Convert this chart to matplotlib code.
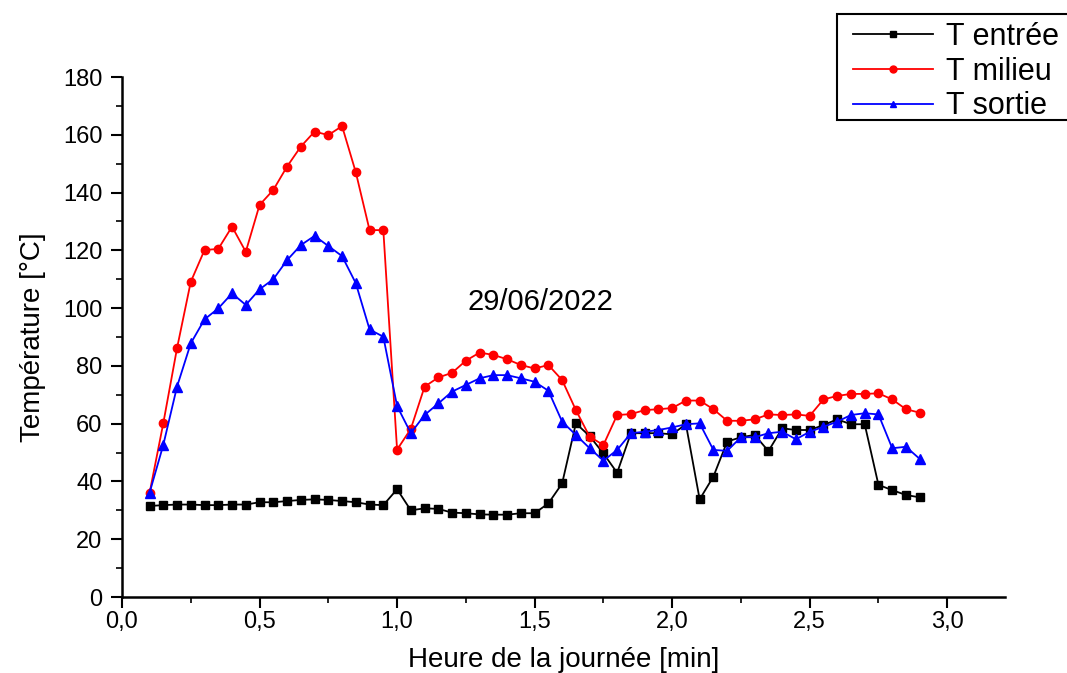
import matplotlib
matplotlib.use("Agg")
import matplotlib.pyplot as plt
from matplotlib.patches import Rectangle
from matplotlib.ticker import FuncFormatter, MultipleLocator

plt.rcParams["font.family"] = ["Liberation Sans", "DejaVu Sans"]

# time (x) from 0.10 to 2.90 by 0.05
heure = [0.10, 0.15, 0.20, 0.25, 0.30, 0.35, 0.40, 0.45, 0.50, 0.55,
         0.60, 0.65, 0.70, 0.75, 0.80, 0.85, 0.90, 0.95, 1.00, 1.05,
         1.10, 1.15, 1.20, 1.25, 1.30, 1.35, 1.40, 1.45, 1.50, 1.55,
         1.60, 1.65, 1.70, 1.75, 1.80, 1.85, 1.90, 1.95, 2.00, 2.05,
         2.10, 2.15, 2.20, 2.25, 2.30, 2.35, 2.40, 2.45, 2.50, 2.55,
         2.60, 2.65, 2.70, 2.75, 2.80, 2.85, 2.90]

t_entree = [31.5, 31.8, 32.0, 32.0, 31.8, 31.8, 32.0, 32.0, 32.8, 32.8,
            33.2, 33.6, 33.8, 33.6, 33.2, 32.8, 32.0, 31.8, 37.3, 30.0,
            30.7, 30.5, 29.2, 29.0, 28.6, 28.5, 28.5, 29.0, 29.0, 32.4,
            39.3, 60.1, 55.7, 49.7, 43.0, 56.7, 56.7, 56.7, 56.3, 59.8,
            33.8, 41.7, 53.8, 55.3, 56.1, 50.5, 58.4, 57.8, 57.8, 59.5,
            61.5, 59.8, 59.8, 38.8, 37.0, 35.3, 34.5]

t_milieu = [35.9, 60.1, 86.1, 109.1, 120.1, 120.5, 128.2, 119.5, 135.7, 140.9,
            149.0, 155.9, 161.1, 159.9, 163.0, 147.0, 127.0, 127.0, 51.0, 58.2,
            72.8, 76.0, 77.6, 81.8, 84.6, 83.8, 82.3, 80.3, 79.1, 80.3,
            75.1, 64.7, 55.5, 52.6, 63.0, 63.3, 64.7, 65.0, 65.4, 68.0,
            68.0, 65.0, 61.0, 61.0, 61.5, 63.2, 63.0, 63.2, 62.7, 68.4,
            69.6, 70.3, 70.3, 70.5, 68.4, 65.0, 63.8]

t_sortie = [36.0, 52.6, 72.8, 87.8, 96.1, 99.9, 105.1, 101.1, 106.5, 110.0,
            116.6, 121.8, 125.0, 121.5, 118.0, 108.6, 92.6, 90.1, 66.1, 56.7,
            63.0, 67.0, 71.1, 73.4, 75.7, 76.8, 76.8, 75.7, 74.5, 71.4,
            60.7, 56.1, 51.5, 47.2, 50.9, 56.7, 57.2, 57.8, 58.7, 59.8,
            60.1, 50.9, 50.6, 55.3, 55.3, 56.7, 57.2, 54.6, 57.2, 58.9,
            60.7, 63.0, 63.6, 63.2, 51.5, 52.0, 47.8]

W, H = 1067, 673
fig = plt.figure(figsize=(W / 100, H / 100), dpi=100)
ax = fig.add_axes([122 / W, 1 - 597 / H, (1005 - 122) / W, (597 - 77) / H])

ax.plot(heure, t_entree, "-s", color="black", lw=1.3, ms=5.5, label="T entrée")
ax.plot(heure, t_milieu, "-o", color="red", lw=1.3, ms=6, label="T milieu")
ax.plot(heure, t_sortie, "-^", color="blue", lw=1.3, ms=7, label="T sortie")

ax.set_xlim(0, 3.21)
ax.set_ylim(0, 180)
ax.xaxis.set_major_locator(MultipleLocator(0.5))
ax.xaxis.set_minor_locator(MultipleLocator(0.25))
ax.yaxis.set_major_locator(MultipleLocator(20))
ax.yaxis.set_minor_locator(MultipleLocator(10))
ax.xaxis.set_major_formatter(FuncFormatter(lambda v, p: f"{v:.1f}".replace(".", ",")))

for side in ("top", "right"):
    ax.spines[side].set_visible(False)
for side in ("left", "bottom"):
    ax.spines[side].set_linewidth(1.8)
ax.tick_params(which="major", direction="out", length=8, width=1.5, labelsize=17, pad=6)
ax.tick_params(which="minor", direction="out", length=4, width=1.2)
ax.tick_params(axis="x", which="major", pad=2)

ax.set_xlabel("Heure de la journée [min]", fontsize=20, labelpad=10)
ax.set_ylabel("Température [°C]", fontsize=20, labelpad=12)

ax.text(1.52, 102, "29/06/2022", fontsize=21, ha="center", va="center")

# legend box drawn by hand so it runs off the right edge like the original
fig.patches.append(Rectangle((837 / W, 1 - 120 / H), 240 / W, 106 / H,
                             transform=fig.transFigure, facecolor="white",
                             edgecolor="black", lw=1.5, zorder=3))
leg = fig.legend(loc="upper left", bbox_to_anchor=(850 / W, 1 - 19 / H),
                 bbox_transform=fig.transFigure, fontsize=22, numpoints=1,
                 handlelength=2.6, handletextpad=0.45, labelspacing=0.15,
                 borderpad=0.1, borderaxespad=0, frameon=False)
leg.set_zorder(4)
for h in leg.legend_handles:
    h.set_markersize(5)

fig.savefig("out.png", dpi=100)
